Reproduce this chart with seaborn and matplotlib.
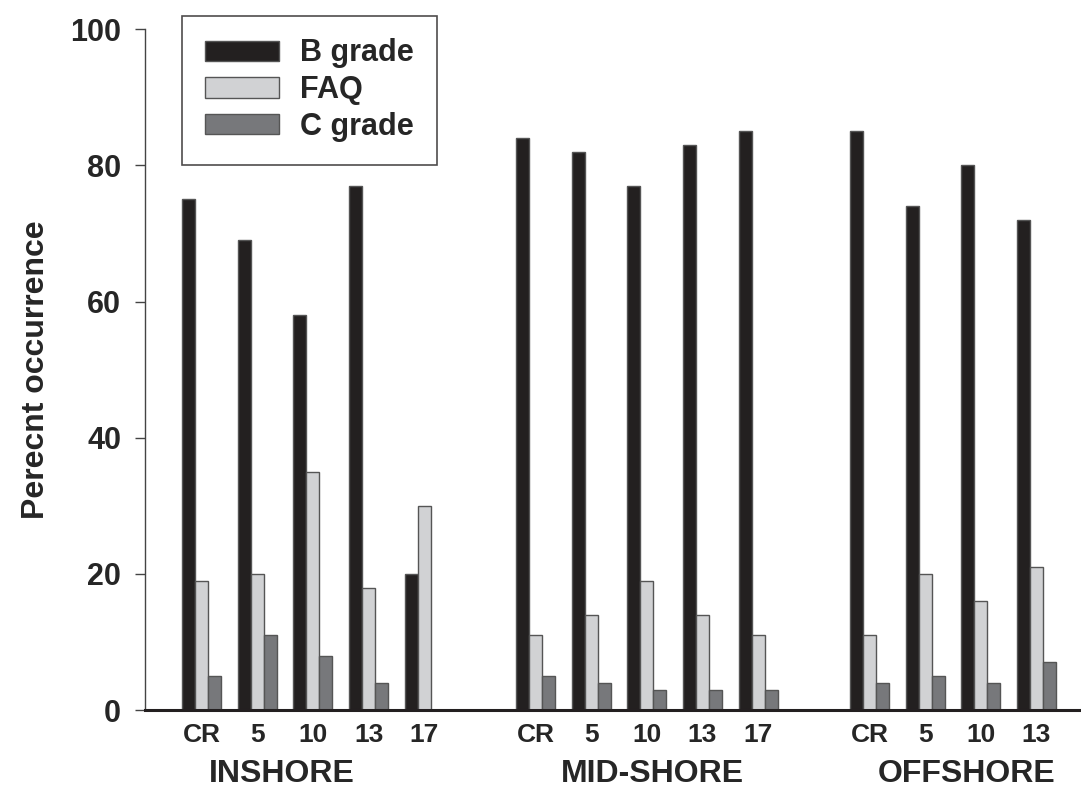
import matplotlib
matplotlib.use("Agg")
import matplotlib.pyplot as plt
import seaborn as sns
import pandas as pd

# sites per zone
zones = ["INSHORE", "MID-SHORE", "OFFSHORE"]
sites = [["CR", "5", "10", "13", "17"],
         ["CR", "5", "10", "13", "17"],
         ["CR", "5", "10", "13"]]

b_grade = [[75, 69, 58, 77, 20],
           [84, 82, 77, 83, 85],
           [85, 74, 80, 72]]
faq = [[19, 20, 35, 18, 30],
       [11, 14, 19, 14, 11],
       [11, 20, 16, 21]]
c_grade = [[5, 11, 8, 4, None],
           [5, 4, 3, 3, 3],
           [4, 5, 4, 7]]

grades = ["B grade", "FAQ", "C grade"]
colors = ["#231f20", "#d1d2d4", "#77787b"]

# build long table, one empty slot between zones
rows = []
tick_pos, tick_lab, zone_pos = [], [], []
pos = 0
for zi, zone in enumerate(zones):
    start = pos
    for si, site in enumerate(sites[zi]):
        for g, vals in zip(grades, [b_grade, faq, c_grade]):
            v = vals[zi][si]
            if v is not None:
                rows.append({"pos": pos, "grade": g, "value": v})
        tick_pos.append(pos)
        tick_lab.append(site)
        pos += 1
    zone_pos.append(start)
    pos += 1
df = pd.DataFrame(rows)

sns.set_style("ticks")
plt.rcParams["font.family"] = ["Liberation Sans", "DejaVu Sans"]
plt.rcParams["font.weight"] = "bold"

fig = plt.figure(figsize=(10.81, 7.89), dpi=100)
ax = fig.add_axes([0.134, 0.1, 0.866, 0.863])

sns.barplot(data=df, x="pos", y="value", hue="grade", hue_order=grades,
            palette=colors, native_scale=True, width=0.7, errorbar=None,
            edgecolor="#555555", linewidth=1, ax=ax)

ax.set_ylim(0, 100)
ax.set_xlim(-1.02, 15.8)
ax.set_yticks([0, 20, 40, 60, 80, 100])
ax.tick_params(axis="y", labelsize=22, length=7, width=1, color="#444444", pad=10)
ax.set_xticks(tick_pos)
ax.set_xticklabels(tick_lab)
ax.tick_params(axis="x", labelsize=19, length=0, pad=9)
for lab in ax.get_xticklabels() + ax.get_yticklabels():
    lab.set_fontweight("bold")

ax.set_xlabel("")
ax.set_ylabel("Perecnt occurrence", fontsize=23, fontweight="bold", labelpad=14)

sns.despine(ax=ax)
ax.spines["left"].set_linewidth(1)
ax.spines["left"].set_color("#444444")
ax.spines["bottom"].set_linewidth(2.2)
ax.spines["bottom"].set_color("#231f20")

# zone labels under the site labels
zone_offset = [1.44, 2.1, 1.75]
for z, p, off in zip(zones, zone_pos, zone_offset):
    ax.text(p + off, -0.094, z, transform=ax.get_xaxis_transform(),
            ha="center", va="center", fontsize=23, fontweight="bold")

leg = ax.legend(loc="upper left", bbox_to_anchor=(0.04, 1.02), frameon=True,
                fancybox=False, fontsize=22, handlelength=2.4, handleheight=0.65,
                labelspacing=0.22, borderpad=0.75, handletextpad=0.7,
                borderaxespad=0)
leg.get_frame().set_edgecolor("#231f20")
leg.get_frame().set_linewidth(1.2)
for t in leg.get_texts():
    t.set_fontweight("bold")

fig.savefig("out.png", dpi=100)
